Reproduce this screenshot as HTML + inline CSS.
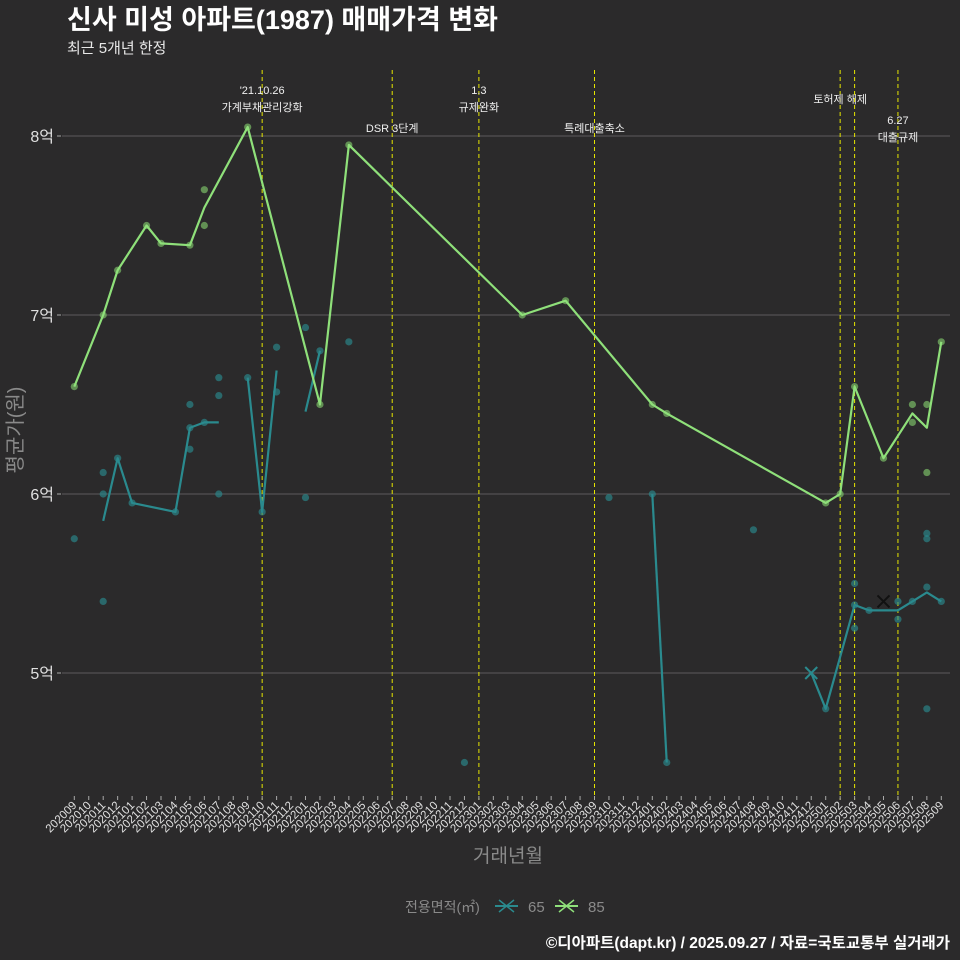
<!DOCTYPE html>
<html><head><meta charset="utf-8">
<style>
html,body{margin:0;padding:0;background:#2b2a2b;}
svg{display:block;font-family:"Liberation Sans","Noto Sans CJK KR",sans-serif;}
</style></head>
<body>
<svg id="chart" width="960" height="960" viewBox="0 0 960 960">
<rect width="960" height="960" fill="#2b2a2b"/>
<text x="67" y="29" fill="#ffffff" font-size="27" font-weight="bold">신사 미성 아파트(1987) 매매가격 변화</text>
<text x="67" y="53" fill="#e8e8e8" font-size="15">최근 5개년 한정</text>
<g id="grid"></g>
<g id="vlines"></g>
<g id="series65"></g>
<g id="series85"></g>
<g id="xaxis"></g>
<text transform="translate(22,430) rotate(-90)" text-anchor="middle" fill="#8a8a8a" font-size="20">평균가(원)</text>
<text x="508" y="862" text-anchor="middle" fill="#8a8a8a" font-size="19">거래년월</text>
<g>
<text x="405" y="912" fill="#8a8a8a" font-size="14">전용면적(㎡)</text>
<g>
<line x1="495" y1="906" x2="518" y2="906" stroke="#2a8a8e" stroke-width="2"/>
<path d="M499 900 L514 912 M514 900 L499 912" stroke="#2a8a8e" stroke-width="1.5"/>
<text x="528" y="912" fill="#8a8a8a" font-size="15">65</text></g>
<g>
<line x1="555" y1="906" x2="578" y2="906" stroke="#8fe07a" stroke-width="2"/>
<path d="M559 900 L574 912 M574 900 L559 912" stroke="#8fe07a" stroke-width="1.5"/>
<text x="588" y="912" fill="#8a8a8a" font-size="15">85</text></g>
</g>
<text x="950" y="948" text-anchor="end" fill="#ffffff" font-size="15.5" font-weight="bold">©디아파트(dapt.kr) / 2025.09.27 / 자료=국토교통부 실거래가</text>
</svg>
<script>
const months = [];
for (let y=2020,m=9; months.length<61; ) { months.push(String(y)+String(m).padStart(2,'0')); m++; if(m>12){m=1;y++;} }
const yTicks = [5,6,7,8];
const yTickLabels = ['5억','6억','7억','8억'];
// 85㎡ line: [monthIndex, value(억)]
const line85 = [[0,6.6],[2,7.0],[3,7.25],[5,7.5],[6,7.4],[8,7.39],[9,7.6],[12,8.05],[17,6.5],[19,7.95],[31,7.0],[34,7.08],[40,6.5],[41,6.45],[52,5.95],[53,6.0],[54,6.6],[56,6.2],[58,6.45],[59,6.37],[60,6.85]];
const pts85 = [[0,6.6],[2,7.0],[3,7.25],[5,7.5],[6,7.4],[8,7.39],[9,7.7],[9,7.5],[12,8.05],[17,6.5],[19,7.95],[31,7.0],[34,7.08],[40,6.5],[41,6.45],[52,5.95],[53,6.0],[54,6.6],[56,6.2],[58,6.5],[58,6.4],[59,6.5],[59,6.12],[60,6.85]];
// 65㎡ line segments
const seg65a = [[2,5.85],[3,6.2],[4,5.95],[7,5.9],[8,6.37],[9,6.4],[10,6.4]];
const seg65b = [[12,6.65],[13,5.9],[14,6.69]];
const seg65c = [[16,6.46],[17,6.8]];
const seg65d = [[40,6.0],[41,4.5]];
const seg65e = [[51,5.0],[52,4.8],[54,5.38],[55,5.35],[57,5.35],[58,5.4],[59,5.45],[60,5.4]];
const pts65 = [[0,5.75],[2,6.12],[2,6.0],[2,5.4],[3,6.2],[4,5.95],[7,5.9],[8,6.5],[8,6.25],[8,6.37],[9,6.4],[10,6.65],[10,6.55],[10,6.0],[12,6.65],[13,5.9],[14,6.82],[14,6.57],[16,6.93],[16,5.98],[17,6.8],[19,6.85],[27,4.5],[37,5.98],[40,6.0],[41,4.5],[47,5.8],[52,4.8],[54,5.5],[54,5.25],[54,5.38],[55,5.35],[57,5.4],[57,5.3],[58,5.4],[59,5.48],[59,5.78],[59,5.75],[59,4.8],[60,5.4]];
const crossPts = [[51,5.0,'#2a8a8e'],[56,5.4,'#111111']];
const eventIdx = [13,22,28,36,53,54,57];
const eventLabels = [["'21.10.26","가계부채관리강화"],["DSR 3단계"],["1.3","규제완화"],["특례대출축소"],["토허제 해제"],[],["6.27","대출규제"]];
const eventLabelY = [90,128,90,128,99,0,120];

const NS='http://www.w3.org/2000/svg';
const X = i => 74.3 + 14.45*i;
const Y = v => 673 - (v-5)*179;
function mk(tag, attrs, parent){const e=document.createElementNS(NS,tag);for(const k in attrs)e.setAttribute(k,attrs[k]);parent.appendChild(e);return e;}
const grid=document.getElementById('grid');
yTicks.forEach((t,k)=>{
  const l=mk('line',{x1:62,x2:950,y1:Y(t),y2:Y(t),stroke:'#5c5b5c','stroke-width':1},grid);
  
  
  const tk=mk('line',{x1:57,x2:61,y1:Y(t),y2:Y(t),stroke:'#aaa'},grid);
  
  
  const tx=mk('text',{x:54,y:Y(t)+6,'text-anchor':'end',fill:'#e0e0e0','font-size':16},grid);
  tx.textContent=yTickLabels[k];
  
  
});
const vl=document.getElementById('vlines');
eventIdx.forEach((i,k)=>{
  const l=mk('line',{x1:X(i),x2:X(i),y1:70,y2:800,stroke:'#e6e600','stroke-width':1,'stroke-dasharray':'4,3'},vl);
  
  
  eventLabels[k].forEach((s,j)=>{
    const t=mk('text',{x:X(i),y:eventLabelY[k]+j*17+4,'text-anchor':'middle',fill:'#f0f0f0','font-size':11},vl);
    t.textContent=s;
    
    
  });
});
function drawLine(arr,color,g){
  const p=mk('polyline',{points:arr.map(d=>X(d[0])+','+Y(d[1])).join(' '),fill:'none',stroke:color,'stroke-width':2.2,'stroke-linejoin':'round'},g);
  
  
}
function drawPts(arr,color,g){
  arr.forEach(d=>{
    const c=mk('circle',{cx:X(d[0]),cy:Y(d[1]),r:3.6,fill:color,'fill-opacity':0.65},g);
    
    
  });
}
const g65=document.getElementById('series65'), g85=document.getElementById('series85');
drawPts(pts65,'#2a8a8e',g65);
[seg65a,seg65b,seg65c,seg65d,seg65e].forEach(s=>drawLine(s,'#2a8a8e',g65));
crossPts.forEach(d=>{
  const x=X(d[0]),y=Y(d[1]);
  const p=mk('path',{d:`M${x-6} ${y-6} L${x+6} ${y+6} M${x+6} ${y-6} L${x-6} ${y+6}`,stroke:d[2],'stroke-width':2},g65);
  
  
});
drawPts(pts85,'#7fc86a',g85);
drawLine(line85,'#8fe07a',g85);
const xa=document.getElementById('xaxis');
months.forEach((m,i)=>{
  const tk=mk('line',{x1:X(i),x2:X(i),y1:796,y2:800,stroke:'#aaa'},xa);
  
  
  const t=mk('text',{x:X(i)+3,y:806,'text-anchor':'end',fill:'#e0e0e0','font-size':11.5,transform:`rotate(-45 ${X(i)+3} 806)`},xa);
  t.textContent=m;
  
  
});
</script>
</body></html>
